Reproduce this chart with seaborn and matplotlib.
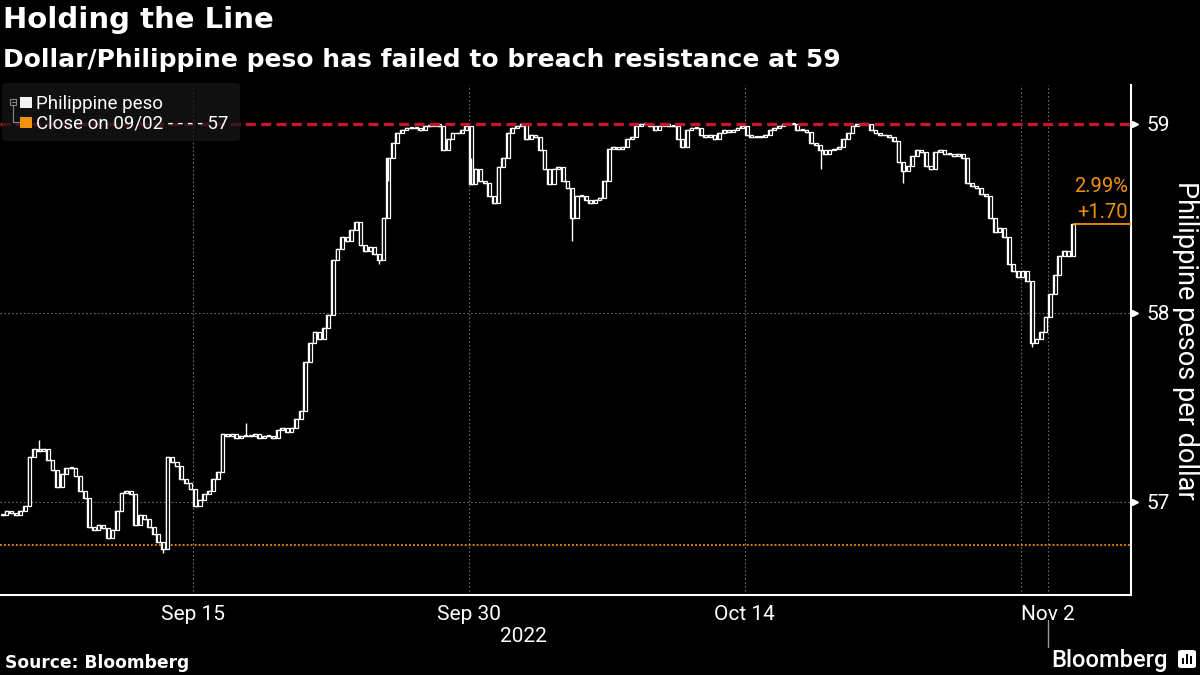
import matplotlib.pyplot as plt
import matplotlib.patches as mpatches
from matplotlib.lines import Line2D
import numpy as np
import pandas as pd
import seaborn as sns

# trading sessions on the chart (Manila closed Sep 26, Oct 31, Nov 1)
sessions = ["Sep 6", "Sep 7", "Sep 8", "Sep 9", "Sep 12", "Sep 13", "Sep 14", "Sep 15",
            "Sep 16", "Sep 19", "Sep 20", "Sep 21", "Sep 22", "Sep 23", "Sep 27", "Sep 28",
            "Sep 29", "Sep 30",
            "Oct 3", "Oct 4", "Oct 5", "Oct 6", "Oct 7", "Oct 10", "Oct 11", "Oct 12",
            "Oct 13", "Oct 14", "Oct 17", "Oct 18", "Oct 19", "Oct 20", "Oct 21", "Oct 24",
            "Oct 25", "Oct 26", "Oct 27", "Oct 28",
            "Nov 2"]

# intraday closes, 6 bars per session (USD/PHP)
sep_close = [56.93, 56.95, 56.94, 56.93, 56.95, 56.98,
             57.24, 57.28, 57.27, 57.28, 57.22, 57.17,
             57.08, 57.15, 57.18, 57.18, 57.14, 57.06,
             57.02, 56.87, 56.85, 56.88, 56.86, 56.81,
             56.85, 56.95, 57.05, 57.06, 57.04, 56.88,
             56.93, 56.91, 56.87, 56.83, 56.79, 56.75,
             57.24, 57.21, 57.19, 57.12, 57.10, 57.07,
             56.98, 57.01, 57.04, 57.06, 57.12, 57.16,
             57.36, 57.35, 57.36, 57.34, 57.35, 57.35,
             57.35, 57.36, 57.34, 57.35, 57.35, 57.34,
             57.38, 57.39, 57.37, 57.39, 57.44, 57.48,
             57.74, 57.84, 57.90, 57.86, 57.92, 57.99,
             58.28, 58.34, 58.40, 58.38, 58.44, 58.48,
             58.36, 58.33, 58.35, 58.31, 58.28, 58.50,
             58.82, 58.90, 58.95, 58.97, 58.98, 58.98,
             58.98, 58.97, 58.99, 58.99, 59.00, 58.99,
             58.86, 58.92, 58.95, 58.95, 58.97, 58.99,
             58.68, 58.76, 58.70, 58.69, 58.62, 58.58]
oct_close = [58.77, 58.82, 58.95, 58.98, 58.99, 59.00,
             58.92, 58.94, 58.93, 58.86, 58.76, 58.68,
             58.76, 58.77, 58.70, 58.66, 58.50, 58.62,
             58.62, 58.60, 58.58, 58.60, 58.61, 58.70,
             58.87, 58.88, 58.87, 58.88, 58.92, 58.93,
             58.99, 59.00, 59.00, 58.99, 58.97, 58.99,
             59.00, 58.99, 58.99, 58.92, 58.88, 58.97,
             58.98, 58.98, 58.94, 58.93, 58.94, 58.92,
             58.95, 58.97, 58.96, 58.97, 58.98, 58.99,
             58.94, 58.93, 58.93, 58.93, 58.94, 58.97,
             58.98, 58.99, 59.00, 59.00, 59.00, 58.97,
             58.97, 58.96, 58.90, 58.89, 58.86, 58.84,
             58.86, 58.87, 58.88, 58.92, 58.95, 58.99,
             59.00, 59.00, 59.00, 58.97, 58.95, 58.94,
             58.94, 58.93, 58.91, 58.80, 58.75, 58.78,
             58.83, 58.86, 58.85, 58.78, 58.76, 58.85,
             58.86, 58.84, 58.84, 58.83, 58.84, 58.82,
             58.69, 58.67, 58.66, 58.63, 58.62, 58.50,
             58.43, 58.45, 58.40, 58.26, 58.22, 58.19,
             58.22, 58.17, 57.84, 57.86, 57.90, 57.98]
nov_close = [58.10, 58.20, 58.30, 58.33, 58.30, 58.47]

# a few long wicks (bar number, extreme)
wick_bar = [8, 35, 53, 82, 84, 102, 124, 178, 196, 224]
wick_val = [57.33, 56.73, 57.42, 58.26, 58.70, 58.82, 58.38, 58.76, 58.69, 57.82]

close_0902 = 56.77
resistance = 59
y_ticks = [57, 58, 59]
major_dates = ["Sep 15", "Sep 30", "Oct 14", "Nov 2"]
minor_dates = ["Sep 7", "Sep 22", "Oct 7", "Oct 24"]
extra_grid = ["Oct 28"]

WHITE = "white"
ORANGE = "#f0920f"
RED = "#c8142c"
GRID = "#6a6a6a"
HEAD_FONT = ["DejaVu Sans"]

sns.set_style("dark")
plt.rcParams["font.family"] = ["Roboto", "DejaVu Sans"]

per = 6
close = np.array(sep_close + oct_close + nov_close)
opens = np.r_[close[0], close[:-1]]
df = pd.DataFrame({"x": np.arange(len(close)) / per + 0.5 / per,
                   "close": close, "open": opens})


def fx(px):
    return px / 1200


def fy(py):
    return 1 - py / 675


fig = plt.figure(figsize=(12, 6.75), dpi=100)
fig.patch.set_facecolor("black")
ax = fig.add_axes([0, 80 / 675, 1131 / 1200, 510 / 675])
ax.set_facecolor("black")

# grid
for v in y_ticks[:2]:
    ax.axhline(v, color=GRID, lw=0.8, ls=(0, (1.5, 2)), zorder=1)
for d in major_dates + extra_grid:
    ax.axvline(sessions.index(d), color=GRID, lw=0.8, ls=(0, (1.5, 2)), zorder=1)

# price bars
sns.lineplot(data=df, x="x", y="close", ax=ax, color=WHITE, lw=1.0,
             drawstyle="steps-mid", zorder=3)
body_lo = np.minimum(df["open"], df["close"])
body_h = np.maximum((df["close"] - df["open"]).abs(), 0.004)
ax.bar(df["x"], body_h, bottom=body_lo, width=0.11, facecolor="black",
       edgecolor=WHITE, linewidth=0.9, zorder=3)
ax.vlines(df["x"].values[wick_bar], close[wick_bar], wick_val, color=WHITE,
          lw=1.0, zorder=3)

# reference lines
ax.axhline(resistance, color=RED, lw=2.4, dashes=(3, 1.6), zorder=4)
ax.axhline(close_0902, color=ORANGE, lw=1.3, ls=(0, (1, 1.2)), zorder=2)
ax.plot([df["x"].iloc[-1], 41], [close[-1]] * 2, color=ORANGE, lw=1.3, zorder=4)
change = close[-1] - close_0902
ax.text(40.9, 58.667, f"{change / close_0902 * 100:.2f}%", color=ORANGE, fontsize=14.5,
        ha="right", va="center")
ax.text(40.9, 58.534, f"+{change:.2f}", color=ORANGE, fontsize=14.5,
        ha="right", va="center")

ax.set_xlim(0, 41)
ax.set_ylim(56.508, 59.206)

# axes
for side in ["top", "left"]:
    ax.spines[side].set_visible(False)
for side in ["right", "bottom"]:
    ax.spines[side].set_color(WHITE)
    ax.spines[side].set_linewidth(1.5)
ax.yaxis.tick_right()
ax.set_yticks(y_ticks)
ax.set_yticklabels([str(v) for v in y_ticks])
ax.tick_params(axis="y", length=0, pad=11, labelsize=15, labelcolor=WHITE)
ax.plot([1.0035] * 3, y_ticks, ls="none", marker=">", ms=5, color=WHITE,
        transform=ax.get_yaxis_transform(), clip_on=False, zorder=5)
ax.set_xticks([sessions.index(d) for d in major_dates])
ax.set_xticklabels(major_dates)
ax.set_xticks([sessions.index(d) for d in minor_dates], minor=True)
ax.tick_params(axis="x", which="both", length=5, width=1.2, color=WHITE,
               labelsize=15, labelcolor=WHITE, pad=2)
ax.set_xlabel("")
ax.set_ylabel("")
ax.grid(False)

# legend box
fig.add_artist(mpatches.FancyBboxPatch((fx(2), fy(141)), fx(238), 58 / 675,
                                       boxstyle="round,pad=0,rounding_size=0.004",
                                       transform=fig.transFigure, facecolor="#161616",
                                       edgecolor="none", alpha=0.75, zorder=6))
fig.add_artist(mpatches.Rectangle((fx(10), fy(105)), fx(6), 6 / 675, transform=fig.transFigure,
                                  facecolor="none", edgecolor="#888888", lw=0.8, zorder=7))
fig.add_artist(Line2D([fx(11.5), fx(14.5)], [fy(102)] * 2, transform=fig.transFigure,
                      color="#888888", lw=0.8, zorder=7))
fig.add_artist(Line2D([fx(13), fx(13), fx(19)], [fy(105), fy(122), fy(122)],
                      transform=fig.transFigure, color="#888888", lw=0.8, zorder=7))
fig.add_artist(mpatches.Rectangle((fx(20), fy(108)), fx(12), 11 / 675, transform=fig.transFigure,
                                  facecolor="#f2f2f2", edgecolor="none", zorder=7))
fig.add_artist(mpatches.Rectangle((fx(20), fy(128)), fx(12), 11 / 675, transform=fig.transFigure,
                                  facecolor=ORANGE, edgecolor="none", zorder=7))
fig.text(fx(36), fy(109), "Philippine peso", color=WHITE, fontsize=13.5, va="baseline",
         zorder=8)
fig.text(fx(36), fy(129), "Close on 09/02 - - - - 57", color=WHITE, fontsize=13.5,
         va="baseline", zorder=8)

# titles and labels
fig.text(fx(3), fy(28), "Holding the Line", color=WHITE, fontsize=21, fontweight="bold",
         va="baseline", family=HEAD_FONT)
fig.text(fx(3), fy(67), "Dollar/Philippine peso has failed to breach resistance at 59",
         color=WHITE, fontsize=18.0, fontweight="bold", va="baseline", family=HEAD_FONT)
fig.text(fx(1185), fy(340), "Philippine pesos per dollar", color=WHITE, fontsize=19.5,
         rotation=-90, ha="center", va="center")
fig.text(fx(523), fy(642), "2022", color=WHITE, fontsize=15, ha="center", va="baseline")
fig.text(fx(5), fy(668), "Source: Bloomberg", color=WHITE, fontsize=12.3,
         fontweight="bold", va="baseline", family=HEAD_FONT)
fig.add_artist(Line2D([fx(1048)] * 2, [fy(620), fy(647)], transform=fig.transFigure,
                      color="#999999", lw=1))
fig.text(fx(1168), fy(667), "Bloomberg", color=WHITE, fontsize=17, fontweight="medium",
         ha="right", va="baseline")
fig.add_artist(mpatches.FancyBboxPatch((fx(1178), fy(668)), fx(18), 18 / 675,
                                       boxstyle="round,pad=0,rounding_size=0.003",
                                       transform=fig.transFigure, facecolor=WHITE,
                                       edgecolor="none"))
for bx, bh in zip([1182, 1186, 1190], [6, 10, 8]):
    fig.add_artist(mpatches.Rectangle((fx(bx), fy(664)), fx(2), bh / 675,
                                      transform=fig.transFigure, facecolor="black",
                                      edgecolor="none"))

fig.savefig("out.png", dpi=100, facecolor="black")
